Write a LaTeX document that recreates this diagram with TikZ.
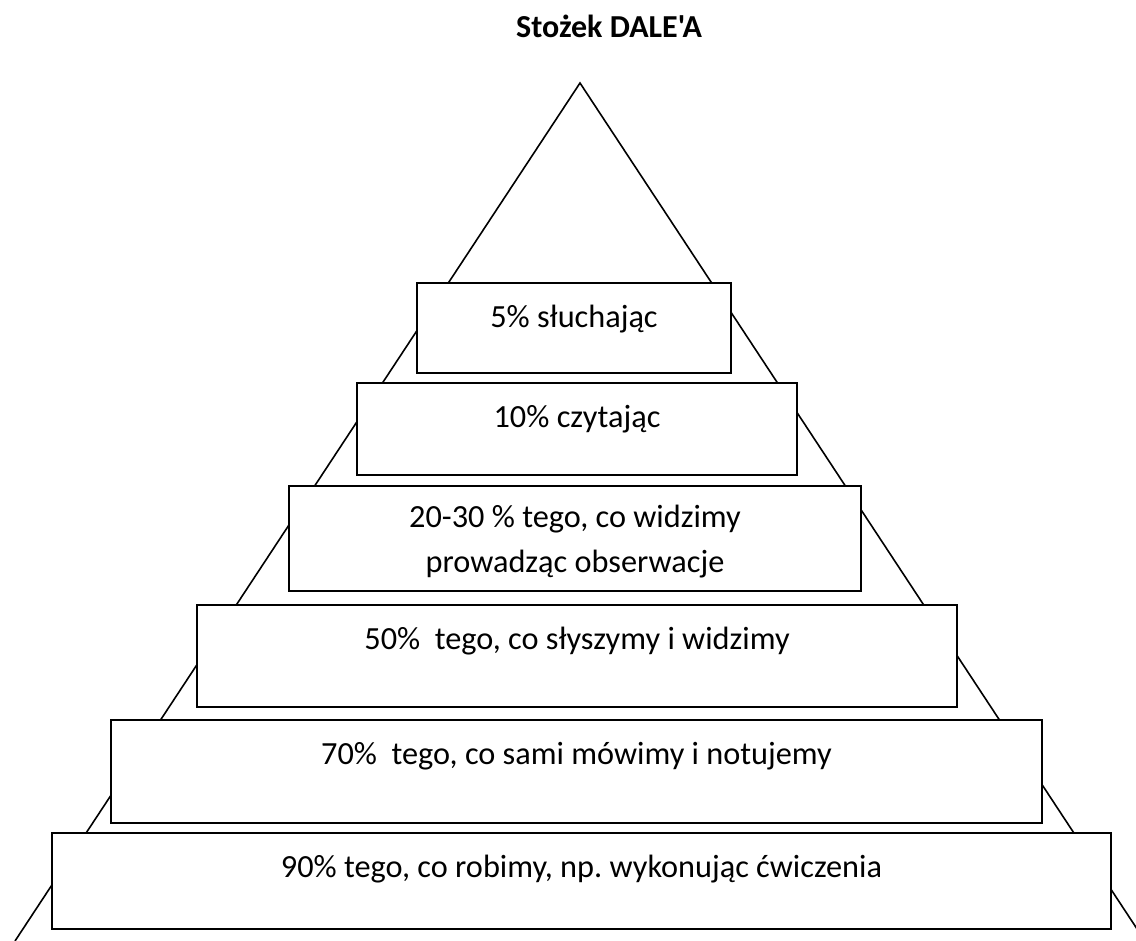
\documentclass[tikz,border=0pt]{standalone}
\usepackage{fontspec}
\setmainfont{Carlito}
\newfontfamily\plainquotefont{Carlito}[Ligatures=NoCommon]
\begin{document}
\frenchspacing
\begin{tikzpicture}[x=1bp,y=-1bp,
  tier/.style={draw, line width=1.9bp, fill=white, inner sep=0pt},
  tiertext/.style={anchor=base, font=\fontsize{32.3bp}{45bp}\selectfont, inner sep=0pt},
  side/.style={line width=1.6bp}]
\useasboundingbox (0,0) rectangle (1136,941);
% title
\node[anchor=base west, inner sep=0pt, font=\plainquotefont\bfseries\fontsize{32bp}{36bp}\selectfont] (title) at (516,37) {Stożek DALE\symbol{39}A};
% cone
\coordinate (apex) at (580,83);
\coordinate (bl) at (15,941);
\coordinate (br) at (1145,941);
\draw[side] (bl) -- (apex) -- (br);
% tiers
\node[tier, minimum width=314bp, minimum height=90bp] (b1) at (574,328) {};
\node[tier, minimum width=440bp, minimum height=92bp] (b2) at (577,429) {};
\node[tier, minimum width=572bp, minimum height=105bp] (b3) at (575,538.5) {};
\node[tier, minimum width=760bp, minimum height=102bp] (b4) at (577,656) {};
\node[tier, minimum width=931bp, minimum height=103bp] (b5) at (576.5,771.5) {};
\node[tier, minimum width=1059bp, minimum height=96bp] (b6) at (581.5,881) {};
% texts
\node[tiertext] (t1) at ([yshift=-45bp]b1.north) {5\% słuchając};
\node[tiertext] (t2) at ([yshift=-45bp]b2.north) {10\% czytając};
\node[tiertext] (t3a) at ([yshift=-42bp]b3.north) {20-30 \% tego, co widzimy};
\node[tiertext] (t3b) at ([yshift=-87bp]b3.north) {prowadząc obserwacje};
\node[tiertext] (t4) at ([yshift=-45bp]b4.north) {50\%\ \ tego, co słyszymy i widzimy};
\node[tiertext] (t5) at ([yshift=-45bp]b5.north) {70\%\ \ tego, co sami mówimy i notujemy};
\node[tiertext] (t6) at ([yshift=-45bp]b6.north) {90\% tego, co robimy, np. wykonując ćwiczenia};
\end{tikzpicture}
\end{document}
